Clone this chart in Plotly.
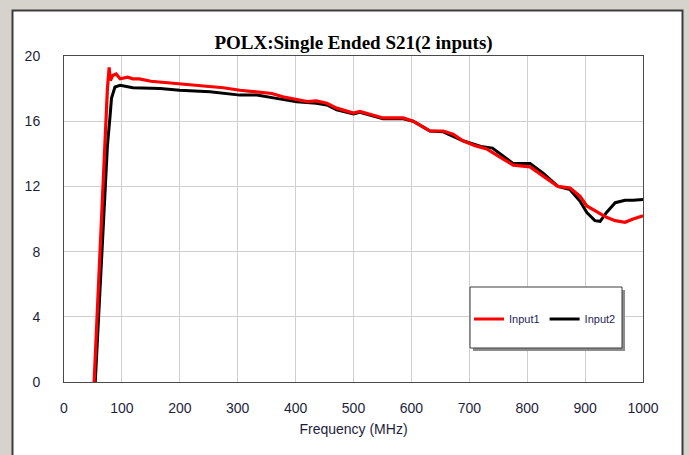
import plotly.graph_objects as go

# Measured S21 (dB) vs frequency (MHz) for the two single-ended inputs
freq_in1 = [52, 60, 65, 70, 75, 78, 80, 84, 90, 97, 110, 119, 130, 150, 166,
            200, 225, 252, 275, 304, 333, 359, 378, 402, 420, 436, 454, 471,
            500, 511, 530, 551, 586, 603, 632, 655, 672, 689, 710, 730, 753,
            776, 805, 828, 853, 874, 891, 903, 917, 926, 937, 952, 969, 983, 1000]
s21_in1 = [0.0, 6.5, 10.6, 14.8, 18.0, 19.3, 18.5, 18.8, 18.9, 18.6, 18.7, 18.6,
           18.6, 18.45, 18.4, 18.3, 18.2, 18.1, 18.05, 17.9, 17.8, 17.7, 17.5,
           17.3, 17.2, 17.25, 17.1, 16.8, 16.5, 16.6, 16.4, 16.2, 16.2, 16.0,
           15.4, 15.4, 15.2, 14.8, 14.5, 14.3, 13.8, 13.3, 13.2, 12.6, 12.0,
           11.9, 11.4, 10.8, 10.5, 10.3, 10.1, 9.9, 9.8, 10.0, 10.2]

freq_in2 = [54, 65, 75, 80, 82, 88, 97, 119, 166, 200, 252, 304, 333, 367,
            402, 436, 454, 471, 500, 511, 551, 586, 603, 632, 655, 689, 720,
            740, 753, 776, 805, 828, 853, 874, 891, 903, 917, 926, 937, 952,
            969, 983, 1000]
s21_in2 = [0.0, 8.0, 14.5, 16.5, 17.4, 18.1, 18.2, 18.05, 18.0, 17.9, 17.8,
           17.6, 17.6, 17.4, 17.2, 17.1, 17.0, 16.7, 16.45, 16.55, 16.15, 16.15,
           16.0, 15.4, 15.35, 14.8, 14.45, 14.35, 14.0, 13.4, 13.4, 12.8, 12.0,
           11.8, 11.1, 10.4, 9.9, 9.86, 10.4, 11.0, 11.15, 11.15, 11.2]

x_ticks = list(range(0, 1001, 100))
y_ticks = [0, 4, 8, 12, 16, 20]

# plot-area geometry in pixels, used to place the frame and legend box
W, H = 689, 455
L, R, T, B = 64, 643, 56, 382
pw, ph = R - L, B - T


def px(x):
    return (x - L) / pw


def py(y):
    return (B - y) / ph


fig = go.Figure()
fig.add_trace(go.Scatter(x=freq_in2, y=s21_in2, mode="lines", name="Input2",
                         line=dict(color="#000000", width=3), legendrank=2))
fig.add_trace(go.Scatter(x=freq_in1, y=s21_in1, mode="lines", name="Input1",
                         line=dict(color="#ff0000", width=3.2), legendrank=1))

sans = "Liberation Sans, Arial, sans-serif"
tick_font = dict(family=sans, size=14, color="#1e1e3c")

shapes = [
    # white chart panel with dark frame
    dict(type="rect", xref="paper", yref="paper", layer="below",
         x0=px(12.5), x1=px(682.5), y0=py(470), y1=py(10.5),
         fillcolor="white", line=dict(color="#3c3c3c", width=2)),
    # legend box shadow and box
    dict(type="rect", xref="paper", yref="paper",
         x0=px(473), x1=px(625), y0=py(351), y1=py(290),
         fillcolor="#8c8c8c", line=dict(width=0)),
    dict(type="rect", xref="paper", yref="paper",
         x0=px(470), x1=px(622), y0=py(348), y1=py(287),
         fillcolor="white", line=dict(color="#3c3c3c", width=1)),
]

fig.update_layout(
    width=W, height=H,
    margin=dict(l=L, r=W - R, t=T, b=H - B),
    paper_bgcolor="#d6d3cd",
    plot_bgcolor="white",
    shapes=shapes,
    title=dict(text="<b>POLX:Single Ended S21(2 inputs)</b>",
               font=dict(family="Liberation Serif, Times New Roman, serif",
                         size=19, color="#000000"),
               x=0.5, xanchor="center", xref="paper",
               y=1 - 42 / H, yanchor="middle"),
    xaxis=dict(range=[0, 1000], tickvals=x_ticks, ticks="", showgrid=True,
               gridcolor="#cfcfcf", gridwidth=1, zeroline=False,
               showline=True, linecolor="#4a4a4a", linewidth=1, mirror=True,
               tickfont=tick_font, ticklabelstandoff=13,
               title=dict(text="Frequency (MHz)", standoff=9,
                          font=dict(family=sans, size=14, color="#1e1e3c"))),
    yaxis=dict(range=[0, 20], tickvals=y_ticks, ticks="", showgrid=True,
               gridcolor="#cfcfcf", gridwidth=1, zeroline=False,
               showline=True, linecolor="#4a4a4a", linewidth=1, mirror=True,
               tickfont=tick_font, ticklabelstandoff=20),
    legend=dict(orientation="h", x=px(469), y=py(319), xanchor="left",
                yanchor="middle", bgcolor="rgba(0,0,0,0)", borderwidth=0,
                font=dict(family=sans, size=11, color="#1e1e5a"),
                itemwidth=30, tracegroupgap=0),
    showlegend=True,
)

fig.write_html("out.html")
